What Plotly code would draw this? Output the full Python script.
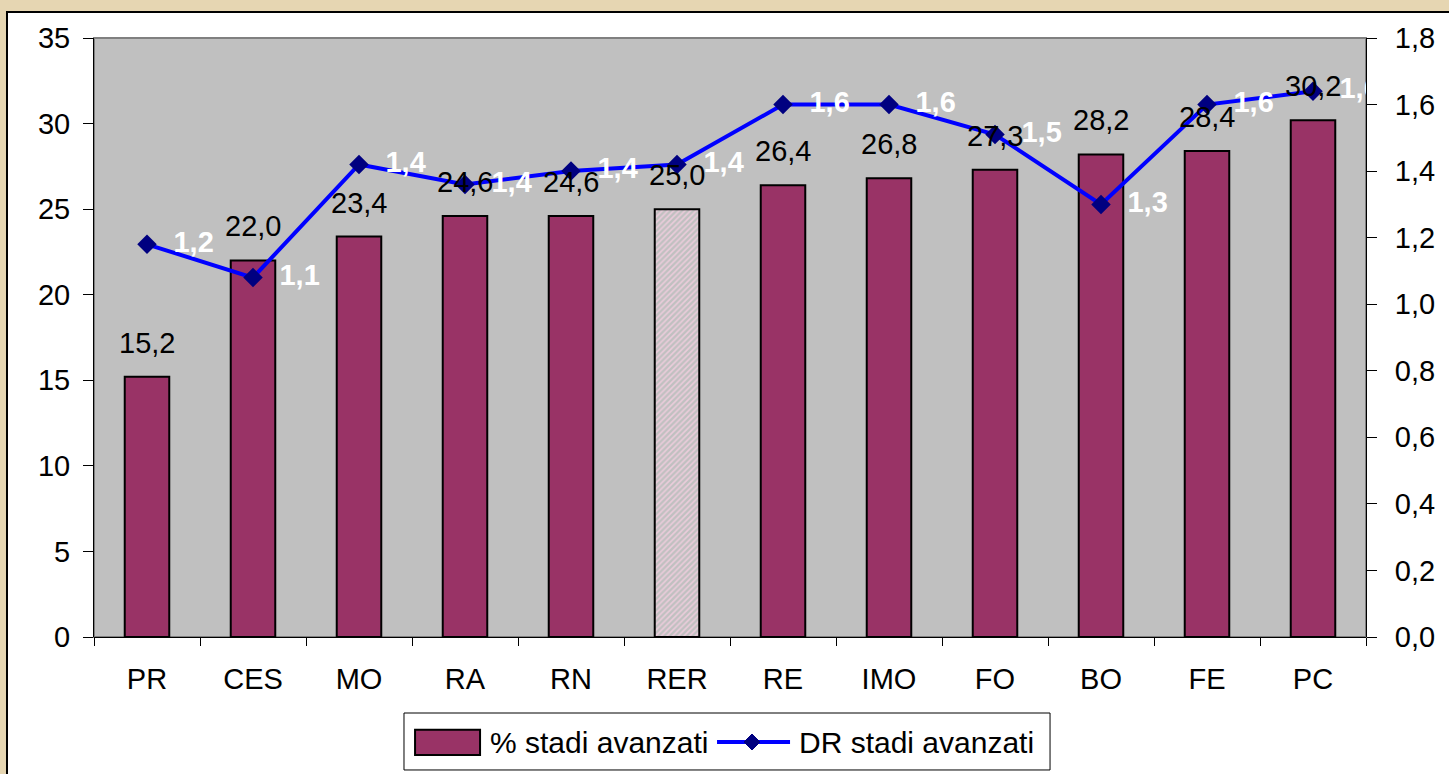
import plotly.graph_objects as go

# data
categories = ["PR", "CES", "MO", "RA", "RN", "RER", "RE", "IMO", "FO", "BO", "FE", "PC"]
pct_advanced = [15.2, 22.0, 23.4, 24.6, 24.6, 25.0, 26.4, 26.8, 27.3, 28.2, 28.4, 30.2]
dr_advanced = [1.18, 1.08, 1.42, 1.36, 1.40, 1.42, 1.60, 1.60, 1.51, 1.30, 1.60, 1.64]
highlight = "RER"
series_names = ["% stadi avanzati", "DR stadi avanzati"]

FONT = "Arial, Liberation Sans, sans-serif"
BAR_COLOR = "#993366"
LINE_COLOR = "#0000FF"
MARKER_COLOR = "#000080"
SIZE = 29


def fmt(v):
    return f"{v:.1f}".replace(".", ",")


bar_colors = ["#EBCCDB" if c == highlight else BAR_COLOR for c in categories]
bar_shapes = ["/" if c == highlight else "" for c in categories]

fig = go.Figure()

fig.add_trace(
    go.Bar(
        x=categories,
        y=pct_advanced,
        name=series_names[0],
        marker=dict(
            color=bar_colors,
            line=dict(color="black", width=2),
            pattern=dict(shape=bar_shapes, fgcolor=BAR_COLOR, bgcolor="#F4E2EA",
                         fillmode="replace", size=4, solidity=0.4),
        ),
        width=0.42,
    )
)

fig.add_trace(
    go.Scatter(
        x=categories,
        y=dr_advanced,
        name=series_names[1],
        yaxis="y2",
        mode="lines+markers+text",
        line=dict(color=LINE_COLOR, width=4),
        marker=dict(symbol="diamond", size=15, color=MARKER_COLOR),
        text=["\u00a0\u00a0" + fmt(v) for v in dr_advanced],
        textposition="middle right",
        textfont=dict(color="white", size=SIZE, family=FONT, weight="bold"),
        cliponaxis=True,
    )
)

# bar value labels, lifted a bit above the bars
annotations = [
    dict(x=c, y=v, xref="x", yref="y", text=fmt(v), showarrow=False,
         yanchor="bottom", yshift=16, font=dict(size=SIZE, color="black"))
    for c, v in zip(categories, pct_advanced)
]

# hand-made legend (Excel style: wide swatch, line with diamond)
annotations += [
    dict(x=0.3097, y=-0.1753, xref="paper", yref="paper", text=series_names[0],
         showarrow=False, xanchor="left", yanchor="middle", font=dict(size=30)),
    dict(x=0.5527, y=-0.1753, xref="paper", yref="paper", text=series_names[1],
         showarrow=False, xanchor="left", yanchor="middle", font=dict(size=30)),
]

dx, dy, cx, cy = 8 / 1272, 8 / 599, 0.5173, -0.1753
diamond = f"M {cx - dx},{cy} L {cx},{cy + dy} L {cx + dx},{cy} L {cx},{cy - dy} Z"

shapes = [
    # white chart area with black border
    dict(type="rect", xref="paper", yref="paper", x0=-0.0684, x1=1.07,
         y0=-0.235, y1=1.0434, fillcolor="white",
         line=dict(color="black", width=2), layer="below"),
    # gray plot area
    dict(type="rect", xref="paper", yref="paper", x0=0, x1=1, y0=0, y1=1,
         fillcolor="#C0C0C0", line=dict(color="#808080", width=2), layer="below"),
    # legend box
    dict(type="rect", xref="paper", yref="paper", x0=0.2437, x1=0.7516,
         y0=-0.222, y1=-0.1269, fillcolor="white", line=dict(color="black", width=1)),
    dict(type="rect", xref="paper", yref="paper", x0=0.2524, x1=0.3035,
         y0=-0.197, y1=-0.155, fillcolor=BAR_COLOR, line=dict(color="black", width=2)),
    dict(type="line", xref="paper", yref="paper", x0=0.4898, x1=0.5472,
         y0=cy, y1=cy, line=dict(color=LINE_COLOR, width=4)),
    dict(type="path", xref="paper", yref="paper", path=diamond,
         fillcolor=MARKER_COLOR, line=dict(color=MARKER_COLOR, width=1)),
]

fig.update_layout(
    width=1449,
    height=774,
    margin=dict(l=94, r=83, t=38, b=137),
    paper_bgcolor="#E6D6B2",
    plot_bgcolor="rgba(0,0,0,0)",
    font=dict(family=FONT, size=SIZE, color="black"),
    separators=",.",
    showlegend=False,
    annotations=annotations,
    shapes=shapes,
    xaxis=dict(
        automargin=False,
        range=[-0.5, len(categories) - 0.5],
        showline=False,
        ticks="outside",
        tickson="boundaries",
        ticklen=8,
        tickcolor="black",
        ticklabelstandoff=22,
        showgrid=False,
    ),
    yaxis=dict(
        automargin=False,
        range=[0, 35],
        dtick=5,
        showline=True,
        linecolor="black",
        linewidth=1,
        ticks="outside",
        ticklen=10,
        tickcolor="black",
        ticklabelstandoff=7,
        showgrid=False,
        zeroline=True,
        zerolinecolor="black",
        zerolinewidth=1,
    ),
    yaxis2=dict(
        automargin=False,
        range=[0, 1.8],
        dtick=0.2,
        tickformat=".1f",
        overlaying="y",
        side="right",
        showline=True,
        linecolor="black",
        linewidth=1,
        ticks="outside",
        ticklen=10,
        tickcolor="black",
        ticklabelstandoff=12,
        showgrid=False,
        zeroline=False,
    ),
)

fig.write_html(
    "out.html",
    config={"displayModeBar": False},
    post_script="document.body.style.margin = '0';",
)
